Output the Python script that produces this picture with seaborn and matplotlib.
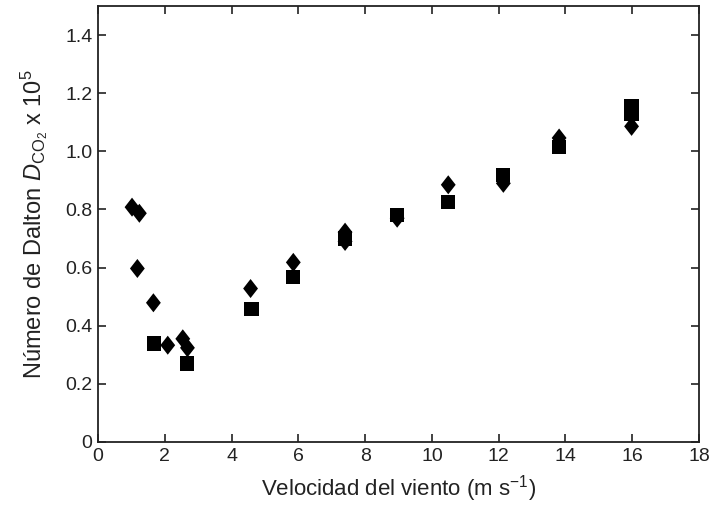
import matplotlib
matplotlib.use("Agg")
import matplotlib.pyplot as plt
import seaborn as sns
import pandas as pd

# Data
diamond_x = [1.02, 1.24, 1.18, 1.66, 2.09, 2.54, 2.68, 4.57, 5.85, 7.40, 7.40, 8.96, 10.49, 12.14, 13.81, 15.98]
diamond_y = [0.808, 0.787, 0.597, 0.479, 0.333, 0.355, 0.324, 0.528, 0.618, 0.722, 0.690, 0.770, 0.885, 0.890, 1.046, 1.086]
square_x = [1.68, 2.66, 4.60, 5.85, 7.40, 8.96, 10.49, 12.14, 13.81, 15.98, 15.98]
square_y = [0.339, 0.270, 0.459, 0.569, 0.700, 0.780, 0.827, 0.919, 1.016, 1.156, 1.128]

x_ticks = [0, 2, 4, 6, 8, 10, 12, 14, 16, 18]
y_ticks = [0, 0.2, 0.4, 0.6, 0.8, 1.0, 1.2, 1.4]
y_tick_labels = ["0", "0.2", "0.4", "0.6", "0.8", "1.0", "1.2", "1.4"]

sns.set_style("ticks")
plt.rcParams['font.family'] = ['Liberation Sans', 'DejaVu Sans']
plt.rcParams['mathtext.fontset'] = 'custom'
plt.rcParams['mathtext.rm'] = 'Liberation Sans'
plt.rcParams['mathtext.it'] = 'Liberation Sans:italic'

df_d = pd.DataFrame({"x": diamond_x, "y": diamond_y})
df_s = pd.DataFrame({"x": square_x, "y": square_y})

fig = plt.figure(figsize=(7.13, 5.05), dpi=100)
ax = fig.add_axes([0.1374, 0.1248, 0.8430, 0.8632])

diamond_marker = [(0, 1), (0.78, 0), (0, -1), (-0.78, 0), (0, 1)]
sns.scatterplot(data=df_s, x="x", y="y", marker="s", s=10.2**2, color="black",
                edgecolor="none", linewidth=0, ax=ax, zorder=3)
sns.scatterplot(data=df_d, x="x", y="y", marker=diamond_marker, s=13.7**2, color="black",
                edgecolor="none", linewidth=0, ax=ax, zorder=3)

ax.set_xlim(0, 18)
ax.set_ylim(0, 1.5)
ax.set_xticks(x_ticks)
ax.set_xticklabels([str(t) for t in x_ticks])
ax.set_yticks(y_ticks)
ax.set_yticklabels(y_tick_labels)

for sp in ax.spines.values():
    sp.set_linewidth(1.3)
    sp.set_color("#222222")
    sp.set_visible(True)

ax.tick_params(direction="in", length=6, width=1.2, top=True, right=True,
               labelsize=14, colors="#222222", pad=4)

ax.set_xlabel("Velocidad del viento (m s$^{-1}$)", fontsize=16, color="#222222", labelpad=6)
ax.set_ylabel("Número de Dalton $D_{\\mathrm{CO_2}}$ x 10$^{5}$", fontsize=17, color="#222222", labelpad=11)

fig.savefig("out.png", dpi=100)
